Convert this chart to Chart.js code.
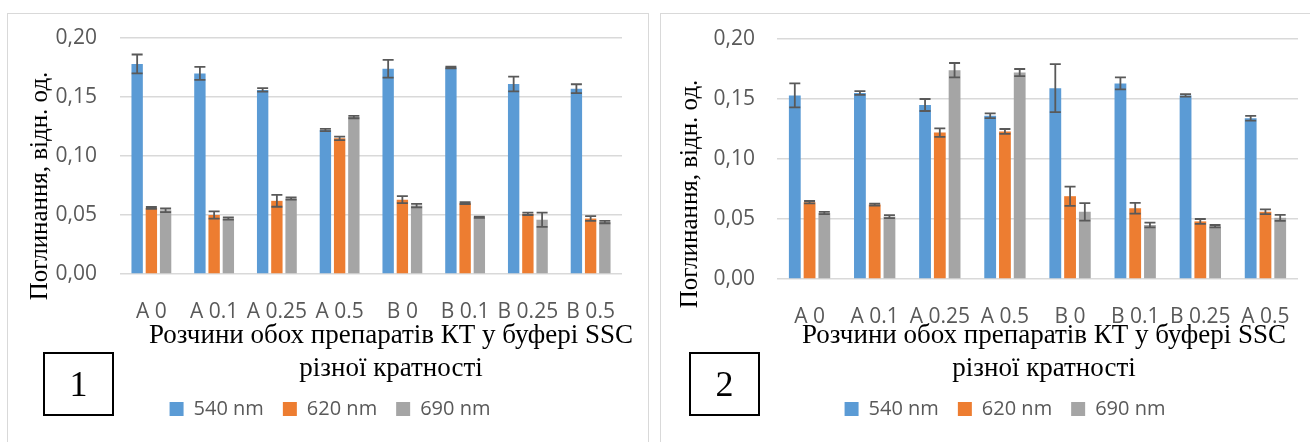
<!DOCTYPE html>
<html>
<head>
<meta charset="utf-8">
<script src="https://cdn.jsdelivr.net/npm/chart.js"></script>
<style>
  body { margin: 0; width: 1310px; height: 442px; overflow: hidden; background: #fff; position: relative; }
  .panel { position: absolute; top: 13px; height: 440px; border: 1px solid #d9d9d9; }
  .panel canvas { display: block; }
  .num { position: absolute; top: 352px; width: 67px; height: 60px; border: 2px solid #000;
         font: 36px "Liberation Serif", serif; text-align: center; line-height: 60px; color: #000; }
</style>
</head>
<body>
<div class="panel" style="left:7px; width:640px;"><canvas id="grafica-1" width="640" height="428"></canvas></div>
<div class="panel" style="left:660px; width:660px;"><canvas id="grafica-2" width="649" height="428"></canvas></div>
<div class="num" style="left:43px;">1</div>
<div class="num" style="left:689px;">2</div>
<script>
// categorias
var etiquetas1 = ['A 0', 'A 0.1', 'A 0.25', 'A 0.5', 'B 0', 'B 0.1', 'B 0.25', 'B 0.5'];
var etiquetas2 = ['A 0', 'A 0.1', 'A 0.25', 'A 0.5', 'B 0', 'B 0.1', 'B 0.25', 'A 0.5'];

// grafica 1 - valores y errores
var v540a = [0.178, 0.170, 0.156, 0.122, 0.174, 0.175, 0.161, 0.157];
var e540a = [0.008, 0.0055, 0.0015, 0.001, 0.0075, 0.0008, 0.0063, 0.0038];
var v620a = [0.056, 0.050, 0.062, 0.115, 0.063, 0.060, 0.051, 0.047];
var e620a = [0.0008, 0.003, 0.005, 0.0015, 0.003, 0.0008, 0.001, 0.002];
var v690a = [0.054, 0.047, 0.064, 0.133, 0.058, 0.048, 0.046, 0.044];
var e690a = [0.0015, 0.001, 0.001, 0.001, 0.0015, 0.0005, 0.006, 0.001];

// grafica 2 - valores y errores
var v540b = [0.153, 0.155, 0.145, 0.136, 0.159, 0.163, 0.153, 0.134];
var e540b = [0.010, 0.0015, 0.005, 0.002, 0.020, 0.005, 0.001, 0.002];
var v620b = [0.064, 0.062, 0.122, 0.123, 0.069, 0.059, 0.048, 0.056];
var e620b = [0.001, 0.0008, 0.0035, 0.002, 0.008, 0.0045, 0.002, 0.002];
var v690b = [0.055, 0.052, 0.174, 0.172, 0.056, 0.045, 0.044, 0.051];
var e690b = [0.001, 0.0012, 0.006, 0.003, 0.0073, 0.002, 0.001, 0.0025];

var tituloX = ['Розчини обох препаратів КТ у буфері SSC', 'різної кратності'];
var tituloY = 'Поглинання, відн. од.';

// barras de error + titulos de ejes
var extras = {
  id: 'extras',
  afterDatasetsDraw: function(chart, args, opts) {
    var c = chart.ctx;
    var y = chart.scales.y;
    c.save();
    c.strokeStyle = '#595959';
    c.lineWidth = 1.8;
    chart.data.datasets.forEach(function(ds, i) {
      chart.getDatasetMeta(i).data.forEach(function(bar, j) {
        var arriba = y.getPixelForValue(ds.data[j] + ds.err[j]);
        var abajo = y.getPixelForValue(ds.data[j] - ds.err[j]);
        c.beginPath();
        c.moveTo(bar.x, arriba); c.lineTo(bar.x, abajo);
        c.moveTo(bar.x - 5.5, arriba); c.lineTo(bar.x + 5.5, arriba);
        c.moveTo(bar.x - 5.5, abajo); c.lineTo(bar.x + 5.5, abajo);
        c.stroke();
      });
    });
    c.fillStyle = '#000';
    c.font = '27px "Liberation Serif"';
    c.textAlign = 'center';
    c.textBaseline = 'middle';
    tituloX.forEach(function(t, k) {
      c.fillText(t, opts.xx, opts.xy + k * 33);
    });
    c.font = '25px "Liberation Serif"';
    c.translate(opts.yx, opts.yy);
    c.rotate(-Math.PI / 2);
    c.fillText(tituloY, 0, 0);
    c.restore();
  }
};

function crearGrafica(id, etiquetas, series, pos) {
  var ctx = document.getElementById(id).getContext('2d');
  var colores = ['#5b9bd5', '#ed7d31', '#a5a5a5'];
  var nombres = ['540 nm', '620 nm', '690 nm'];
  return new Chart(ctx, {
    type: 'bar',
    data: {
      labels: etiquetas,
      datasets: series.map(function(s, i) {
        return { label: nombres[i], data: s[0], err: s[1], backgroundColor: colores[i], borderWidth: 0,
                 categoryPercentage: 0.68, barPercentage: 0.8 };
      })
    },
    options: {
      responsive: false,
      animation: false,
      layout: { padding: pos.pad },
      plugins: {
        tooltip: { enabled: false },
        legend: {
          position: 'bottom',
          labels: { boxWidth: 14, boxHeight: 14, padding: 19, color: '#595959',
                    font: { family: 'Open Sans', size: 20 } }
        },
        extras: pos.titulos
      },
      scales: {
        x: {
          grid: { display: false, drawTicks: false },
          border: { display: false },
          ticks: { color: '#595959', padding: 25, maxRotation: 0, autoSkip: false,
                   font: { family: 'Open Sans', size: 21 } },
          afterFit: function(s) { s.height = pos.altoX; s.paddingLeft = 0; s.paddingRight = 0; }
        },
        y: {
          min: 0, max: 0.2,
          grid: { color: '#d9d9d9', lineWidth: 1.5, drawTicks: false },
          border: { display: false },
          ticks: { stepSize: 0.05, color: '#595959', padding: pos.padY,
                   font: { family: 'Open Sans', size: 21 },
                   callback: function(v) { return v.toFixed(2).replace('.', ','); } },
          // sin esto el padding de las etiquetas baja el area de la grafica
          afterFit: function(s) { s.width = pos.anchoY; s.paddingTop = 0; s.paddingBottom = 0; }
        }
      }
    },
    plugins: [extras]
  });
}

// grafica 1
var grafica1 = crearGrafica('grafica-1', etiquetas1,
  [[v540a, e540a], [v620a, e620a], [v690a, e690a]],
  { pad: { left: 30, top: 24, right: 26, bottom: 13 }, anchoY: 82, padY: 23, altoX: 106,
    titulos: { xx: 383, xy: 322, yx: 32, yy: 172 } });

// grafica 2
var grafica2 = crearGrafica('grafica-2', etiquetas2,
  [[v540b, e540b], [v620b, e620b], [v690b, e690b]],
  { pad: { left: 51, top: 25, right: 12, bottom: 13 }, anchoY: 65, padY: 22, altoX: 101,
    titulos: { xx: 383, xy: 322, yx: 29, yy: 180 } });
</script>
</body>
</html>
